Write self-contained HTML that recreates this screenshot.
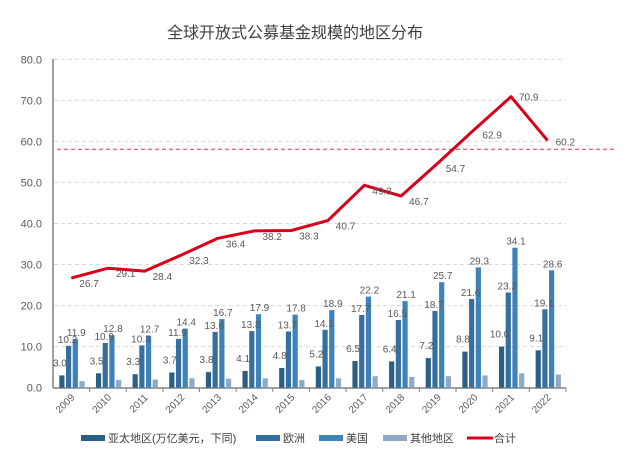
<!DOCTYPE html>
<html><head><meta charset="utf-8"><style>body{margin:0;background:#fff}svg{display:block}</style></head><body>
<svg width="630" height="454" xmlns="http://www.w3.org/2000/svg" font-family="'Liberation Sans','Noto Sans CJK SC',sans-serif">
<text x="295" y="38" text-anchor="middle" font-size="16" fill="#404040">全球开放式公募基金规模的地区分布</text>
<g stroke="#d9d9d9" stroke-dasharray="4,3">
<line x1="54" x2="566" y1="346.6" y2="346.6"/><line x1="54" x2="566" y1="305.6" y2="305.6"/><line x1="54" x2="566" y1="264.5" y2="264.5"/><line x1="54" x2="566" y1="223.5" y2="223.5"/><line x1="54" x2="566" y1="182.4" y2="182.4"/><line x1="54" x2="566" y1="141.4" y2="141.4"/><line x1="54" x2="566" y1="100.3" y2="100.3"/><line x1="54" x2="566" y1="59.3" y2="59.3"/>
</g>
<g font-size="11" fill="#595959" text-anchor="end">
<text x="42" y="391.7">0.0</text><text x="42" y="350.6">10.0</text><text x="42" y="309.6">20.0</text><text x="42" y="268.5">30.0</text><text x="42" y="227.5">40.0</text><text x="42" y="186.4">50.0</text><text x="42" y="145.4">60.0</text><text x="42" y="104.3">70.0</text><text x="42" y="63.3">80.0</text>
</g>
<line x1="53" x2="53" y1="59" y2="388" stroke="#404040"/>
<line x1="53" x2="566" y1="388" y2="388" stroke="#808080" stroke-width="1.5"/>
<defs><style>.a{fill:#2b5f86}.e{fill:#356f9f}.u{fill:#3d82b8}.o{fill:#8fa9c7}.t{font-size:10px;fill:#595959;text-anchor:middle}.tk{stroke:#808080}</style></defs>

<g transform="translate(53,0)"><rect class="a" x="6.3" y="375.4" width="5.2" height="12.3"/><rect class="e" x="13" y="345.8" width="5.2" height="41.9"/><rect class="u" x="19.7" y="338.9" width="5.2" height="48.8"/><rect class="o" x="26.4" y="381.1" width="5.2" height="6.6"/><text class="t" x="6.9" y="366.4">3.0</text><text class="t" x="14.6" y="342.8">10.2</text><text class="t" x="23.3" y="335.9">11.9</text><line class="tk" x1="36.6" x2="36.6" y1="388" y2="392"/><text transform="translate(22.3,398) rotate(-45)" text-anchor="end" font-size="10" fill="#595959">2009</text></g>
<g transform="translate(89.64,0)"><rect class="a" x="6.3" y="373.3" width="5.2" height="14.4"/><rect class="e" x="13" y="343" width="5.2" height="44.7"/><rect class="u" x="19.7" y="335.2" width="5.2" height="52.5"/><rect class="o" x="26.4" y="379.9" width="5.2" height="7.8"/><text class="t" x="6.9" y="364.3">3.5</text><text class="t" x="14.6" y="340">10.9</text><text class="t" x="23.3" y="332.2">12.8</text><line class="tk" x1="36.6" x2="36.6" y1="388" y2="392"/><text transform="translate(22.3,398) rotate(-45)" text-anchor="end" font-size="10" fill="#595959">2010</text></g>
<g transform="translate(126.28,0)"><rect class="a" x="6.3" y="374.2" width="5.2" height="13.5"/><rect class="e" x="13" y="345.4" width="5.2" height="42.3"/><rect class="u" x="19.7" y="335.6" width="5.2" height="52.1"/><rect class="o" x="26.4" y="379.5" width="5.2" height="8.2"/><text class="t" x="6.9" y="365.2">3.3</text><text class="t" x="14.6" y="342.4">10.3</text><text class="t" x="23.3" y="332.6">12.7</text><line class="tk" x1="36.6" x2="36.6" y1="388" y2="392"/><text transform="translate(22.3,398) rotate(-45)" text-anchor="end" font-size="10" fill="#595959">2011</text></g>
<g transform="translate(162.92,0)"><rect class="a" x="6.3" y="372.5" width="5.2" height="15.2"/><rect class="e" x="13" y="338.9" width="5.2" height="48.8"/><rect class="u" x="19.7" y="328.6" width="5.2" height="59.1"/><rect class="o" x="26.4" y="378.3" width="5.2" height="9.4"/><text class="t" x="6.9" y="363.5">3.7</text><text class="t" x="14.6" y="335.9">11.9</text><text class="t" x="23.3" y="325.6">14.4</text><line class="tk" x1="36.6" x2="36.6" y1="388" y2="392"/><text transform="translate(22.3,398) rotate(-45)" text-anchor="end" font-size="10" fill="#595959">2012</text></g>
<g transform="translate(199.56,0)"><rect class="a" x="6.3" y="372.1" width="5.2" height="15.6"/><rect class="e" x="13" y="331.9" width="5.2" height="55.8"/><rect class="u" x="19.7" y="319.1" width="5.2" height="68.6"/><rect class="o" x="26.4" y="378.7" width="5.2" height="9"/><text class="t" x="6.9" y="363.1">3.8</text><text class="t" x="14.6" y="328.9">13.6</text><text class="t" x="23.3" y="316.1">16.7</text><line class="tk" x1="36.6" x2="36.6" y1="388" y2="392"/><text transform="translate(22.3,398) rotate(-45)" text-anchor="end" font-size="10" fill="#595959">2013</text></g>
<g transform="translate(236.2,0)"><rect class="a" x="6.3" y="370.9" width="5.2" height="16.8"/><rect class="e" x="13" y="331.1" width="5.2" height="56.6"/><rect class="u" x="19.7" y="314.2" width="5.2" height="73.5"/><rect class="o" x="26.4" y="378.3" width="5.2" height="9.4"/><text class="t" x="6.9" y="361.9">4.1</text><text class="t" x="14.6" y="328.1">13.8</text><text class="t" x="23.3" y="311.2">17.9</text><line class="tk" x1="36.6" x2="36.6" y1="388" y2="392"/><text transform="translate(22.3,398) rotate(-45)" text-anchor="end" font-size="10" fill="#595959">2014</text></g>
<g transform="translate(272.84,0)"><rect class="a" x="6.3" y="368" width="5.2" height="19.7"/><rect class="e" x="13" y="331.5" width="5.2" height="56.2"/><rect class="u" x="19.7" y="314.6" width="5.2" height="73.1"/><rect class="o" x="26.4" y="379.9" width="5.2" height="7.8"/><text class="t" x="6.9" y="359">4.8</text><text class="t" x="14.6" y="328.5">13.7</text><text class="t" x="23.3" y="311.6">17.8</text><line class="tk" x1="36.6" x2="36.6" y1="388" y2="392"/><text transform="translate(22.3,398) rotate(-45)" text-anchor="end" font-size="10" fill="#595959">2015</text></g>
<g transform="translate(309.48,0)"><rect class="a" x="6.3" y="366.4" width="5.2" height="21.3"/><rect class="e" x="13" y="329.8" width="5.2" height="57.9"/><rect class="u" x="19.7" y="310.1" width="5.2" height="77.6"/><rect class="o" x="26.4" y="378.3" width="5.2" height="9.4"/><text class="t" x="6.9" y="357.4">5.2</text><text class="t" x="14.6" y="326.8">14.1</text><text class="t" x="23.3" y="307.1">18.9</text><line class="tk" x1="36.6" x2="36.6" y1="388" y2="392"/><text transform="translate(22.3,398) rotate(-45)" text-anchor="end" font-size="10" fill="#595959">2016</text></g>
<g transform="translate(346.12,0)"><rect class="a" x="6.3" y="361" width="5.2" height="26.7"/><rect class="e" x="13" y="315" width="5.2" height="72.7"/><rect class="u" x="19.7" y="296.6" width="5.2" height="91.1"/><rect class="o" x="26.4" y="376.2" width="5.2" height="11.5"/><text class="t" x="6.9" y="352">6.5</text><text class="t" x="14.6" y="312">17.7</text><text class="t" x="23.3" y="293.6">22.2</text><line class="tk" x1="36.6" x2="36.6" y1="388" y2="392"/><text transform="translate(22.3,398) rotate(-45)" text-anchor="end" font-size="10" fill="#595959">2017</text></g>
<g transform="translate(382.76,0)"><rect class="a" x="6.3" y="361.4" width="5.2" height="26.3"/><rect class="e" x="13" y="320" width="5.2" height="67.7"/><rect class="u" x="19.7" y="301.1" width="5.2" height="86.6"/><rect class="o" x="26.4" y="377" width="5.2" height="10.7"/><text class="t" x="6.9" y="352.4">6.4</text><text class="t" x="14.6" y="317">16.5</text><text class="t" x="23.3" y="298.1">21.1</text><line class="tk" x1="36.6" x2="36.6" y1="388" y2="392"/><text transform="translate(22.3,398) rotate(-45)" text-anchor="end" font-size="10" fill="#595959">2018</text></g>
<g transform="translate(419.4,0)"><rect class="a" x="6.3" y="358.1" width="5.2" height="29.6"/><rect class="e" x="13" y="310.9" width="5.2" height="76.8"/><rect class="u" x="19.7" y="282.2" width="5.2" height="105.5"/><rect class="o" x="26.4" y="376.2" width="5.2" height="11.5"/><text class="t" x="6.9" y="349.1">7.2</text><text class="t" x="14.6" y="307.9">18.7</text><text class="t" x="23.3" y="279.2">25.7</text><line class="tk" x1="36.6" x2="36.6" y1="388" y2="392"/><text transform="translate(22.3,398) rotate(-45)" text-anchor="end" font-size="10" fill="#595959">2019</text></g>
<g transform="translate(456.04,0)"><rect class="a" x="6.3" y="351.6" width="5.2" height="36.1"/><rect class="e" x="13" y="299" width="5.2" height="88.7"/><rect class="u" x="19.7" y="267.4" width="5.2" height="120.3"/><rect class="o" x="26.4" y="375.4" width="5.2" height="12.3"/><text class="t" x="6.9" y="342.6">8.8</text><text class="t" x="14.6" y="296">21.6</text><text class="t" x="23.3" y="264.4">29.3</text><line class="tk" x1="36.6" x2="36.6" y1="388" y2="392"/><text transform="translate(22.3,398) rotate(-45)" text-anchor="end" font-size="10" fill="#595959">2020</text></g>
<g transform="translate(492.68,0)"><rect class="a" x="6.3" y="346.6" width="5.2" height="41.1"/><rect class="e" x="13" y="292.5" width="5.2" height="95.2"/><rect class="u" x="19.7" y="247.7" width="5.2" height="140"/><rect class="o" x="26.4" y="373.3" width="5.2" height="14.4"/><text class="t" x="6.9" y="337.6">10.0</text><text class="t" x="14.6" y="289.5">23.2</text><text class="t" x="23.3" y="244.7">34.1</text><line class="tk" x1="36.6" x2="36.6" y1="388" y2="392"/><text transform="translate(22.3,398) rotate(-45)" text-anchor="end" font-size="10" fill="#595959">2021</text></g>
<g transform="translate(529.32,0)"><rect class="a" x="6.3" y="350.3" width="5.2" height="37.4"/><rect class="e" x="13" y="309.3" width="5.2" height="78.4"/><rect class="u" x="19.7" y="270.3" width="5.2" height="117.4"/><rect class="o" x="26.4" y="374.6" width="5.2" height="13.1"/><text class="t" x="6.9" y="341.3">9.1</text><text class="t" x="14.6" y="306.3">19.1</text><text class="t" x="23.3" y="267.3">28.6</text><line class="tk" x1="36.6" x2="36.6" y1="388" y2="392"/><text transform="translate(22.3,398) rotate(-45)" text-anchor="end" font-size="10" fill="#595959">2022</text></g>

<line x1="57" x2="617" y1="149.3" y2="149.3" stroke="#e0303f" stroke-dasharray="4,3"/>
<polyline points="71.3,278.1 108,268.2 144.6,271.1 181.2,255.1 217.9,238.3 254.5,230.9 291.2,230.5 327.8,220.6 364.4,185.3 401.1,196 437.7,163.2 474.4,129.5 511,96.7 547.6,140.6" fill="none" stroke="#d9001b" stroke-width="3" stroke-linejoin="round"/>
<g font-size="10" fill="#595959">
<text x="79.3" y="287.1">26.7</text><text x="116" y="277.2">29.1</text><text x="152.6" y="280.1">28.4</text><text x="189.2" y="264.1">32.3</text><text x="225.9" y="247.3">36.4</text><text x="262.5" y="239.9">38.2</text><text x="299.2" y="239.5">38.3</text><text x="335.8" y="229.6">40.7</text><text x="372.4" y="194.3">49.3</text><text x="409.1" y="205">46.7</text><text x="445.7" y="172.2">54.7</text><text x="482.4" y="138.5">62.9</text><text x="519" y="100.7">70.9</text><text x="555.6" y="145.6">60.2</text>
</g>
<g font-size="11" fill="#404040">
<rect x="81" y="435" width="24" height="6" fill="#2b5f86"/><text x="108" y="442">亚太地区(万亿美元，下同)</text>
<rect x="256" y="435" width="24" height="6" fill="#356f9f"/><text x="283" y="442">欧洲</text>
<rect x="319" y="435" width="24" height="6" fill="#3d82b8"/><text x="346" y="442">美国</text>
<rect x="383" y="435" width="24" height="6" fill="#8fa9c7"/><text x="410" y="442">其他地区</text>
<line x1="467" x2="493" y1="438" y2="438" stroke="#d9001b" stroke-width="3"/><text x="494" y="442">合计</text>
</g>
</svg>
</body></html>
